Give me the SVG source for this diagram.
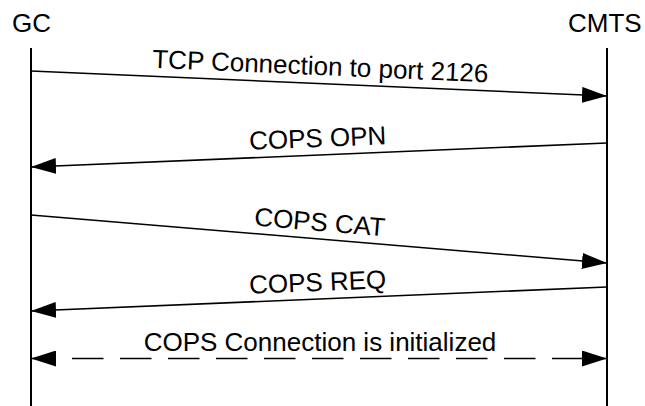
<svg xmlns="http://www.w3.org/2000/svg" width="645" height="406" viewBox="0 0 645 406">
<style>
text{font-family:"Liberation Sans",Arial,sans-serif;font-size:26px;fill:#000}
.life{stroke:#000;stroke-width:2;fill:none}
.msg{stroke:#000;stroke-width:1.5;fill:none}
.dash{stroke-dasharray:31.5 16.5}
</style>
<defs>
<marker id="ah" markerUnits="userSpaceOnUse" markerWidth="25" markerHeight="16" refX="25" refY="8" orient="auto-start-reverse" viewBox="0 0 25 16">
<path d="M0,0 L25,8 L0,16 z" fill="#000"/>
</marker>
</defs>
<rect width="645" height="406" fill="#fff"/>
<g id="gc">
<text x="12" y="32" font-size="25">GC</text>
<line class="life" x1="31" y1="48" x2="31" y2="406"/>
</g>
<g id="cmts">
<text x="568" y="32" font-size="25">CMTS</text>
<line class="life" x1="607" y1="48" x2="607" y2="406"/>
</g>
<g id="connectors">
<line class="msg" x1="31" y1="71" x2="607" y2="96" marker-end="url(#ah)"/>
<text x="320" y="75" text-anchor="middle" transform="rotate(2.49 320 75)">TCP Connection to port 2126</text>
<line class="msg" x1="607" y1="143" x2="31" y2="167" marker-end="url(#ah)"/>
<text x="318" y="147" text-anchor="middle" transform="rotate(-2.39 318 147)">COPS OPN</text>
<line class="msg" x1="31" y1="215" x2="607" y2="263" marker-end="url(#ah)"/>
<text x="319" y="231" text-anchor="middle" transform="rotate(4.76 319 231)">COPS CAT</text>
<line class="msg" x1="607" y1="287" x2="31" y2="311" marker-end="url(#ah)"/>
<text x="318" y="291" text-anchor="middle" transform="rotate(-2.39 318 291)">COPS REQ</text>
<line class="msg dash" x1="31" y1="358.5" x2="607" y2="358.5" stroke-dashoffset="7" marker-start="url(#ah)" marker-end="url(#ah)"/>
<text x="320" y="351" text-anchor="middle">COPS Connection is initialized</text>
</g>
</svg>
